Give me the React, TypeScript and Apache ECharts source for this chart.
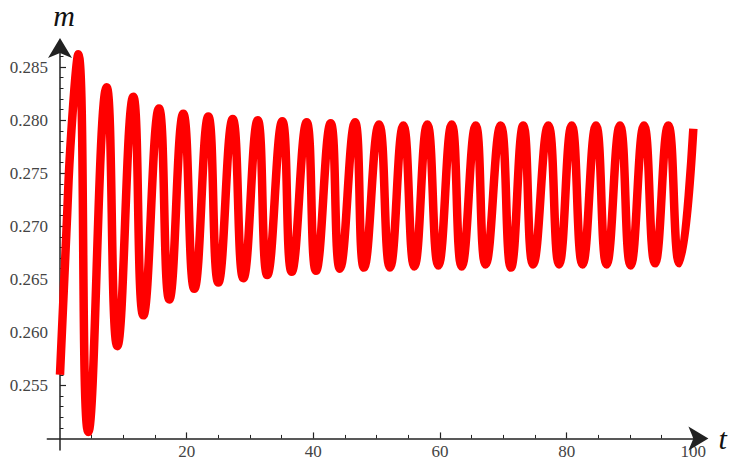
import React, { useEffect, useRef } from 'react';
import * as echarts from 'echarts';

// Curve: start, extrema (peaks / troughs) and end point
const tValues = [
  0, 1.0, 1.8, 2.89, 4.47, 7.37, 9.05, 11.57, 13.16, 15.63, 17.26, 19.47, 21.21,
  23.42, 25.0, 27.27, 28.95, 31.22, 32.73, 35.1, 36.58, 38.95, 40.42, 42.74, 44.2,
  46.58, 48.0, 50.37, 52.1, 54.21, 55.95, 58.0, 59.74, 61.85, 63.43, 65.64, 67.2,
  69.58, 71.2, 73.15, 74.7, 77.1, 78.8, 80.8, 82.5, 84.63, 86.3, 88.42, 90.1,
  92.21, 93.95, 96.05, 97.8, 100,
];
const mValues = [
  0.256, 0.2693, 0.279, 0.2862, 0.2506, 0.2831, 0.2587, 0.2822, 0.2616, 0.2811, 0.2631, 0.2806, 0.2641,
  0.28035, 0.2647, 0.2801, 0.2651, 0.28, 0.2654, 0.2799, 0.2657, 0.2798, 0.2658, 0.2797, 0.266,
  0.2798, 0.2661, 0.2796, 0.2661, 0.2795, 0.2662, 0.2796, 0.2663, 0.2796, 0.2662, 0.2795, 0.2664,
  0.2795, 0.2661, 0.2795, 0.2664, 0.2795, 0.2664, 0.2795, 0.2664, 0.2795, 0.2664, 0.2795, 0.2663,
  0.2795, 0.2665, 0.2795, 0.2665, 0.2792,
];

const xMajorTicks = [20, 40, 60, 80, 100];
const xMinorTicks = [5, 10, 15, 25, 30, 35, 45, 50, 55, 65, 70, 75, 85, 90, 95];
const yMajorTicks = [0.255, 0.26, 0.265, 0.27, 0.275, 0.28, 0.285];
const yMinorTicks = [
  0.251, 0.252, 0.253, 0.254, 0.256, 0.257, 0.258, 0.259, 0.261, 0.262, 0.263, 0.264,
  0.266, 0.267, 0.268, 0.269, 0.271, 0.272, 0.273, 0.274, 0.276, 0.277, 0.278, 0.279,
  0.281, 0.282, 0.283, 0.284, 0.286,
];

const X_MIN = -2;
const X_MAX = 100.8;
const Y_MIN = 0.2489;
const Y_MAX = 0.2868;
const X_ORIGIN = 0;
const Y_ORIGIN = 0.25;

export default function App() {
  const ref = useRef<HTMLDivElement>(null);

  useEffect(() => {
    const el = ref.current;
    if (!el) return;
    const chart = echarts.init(el, null, { renderer: 'svg' });

    const gridLeft = 47.33;
    const gridWidth = 651.07;
    const gridTop = 48;
    const gridHeight = 402.1;
    const xOffset = -((Y_ORIGIN - Y_MIN) / (Y_MAX - Y_MIN)) * gridHeight;
    const yOffset = -((X_ORIGIN - X_MIN) / (X_MAX - X_MIN)) * gridWidth;

    const axisColor = '#222';
    const labelStyle = {
      fontFamily: '"Liberation Serif", "DejaVu Serif", serif',
      fontSize: 17,
      color: '#444',
    };
    const nameStyle = {
      fontFamily: '"Liberation Serif", "DejaVu Serif", serif',
      fontStyle: 'italic',
      fontSize: 30,
      lineHeight: 26,
      color: '#111',
    };

    const data = tValues.map((t, i) => [t, mValues[i]]);

    const option: any = {
      animation: false,
      backgroundColor: '#fff',
      grid: {
        left: gridLeft,
        top: gridTop,
        width: gridWidth,
        height: gridHeight,
        containLabel: false,
        outerBoundsMode: 'none',
      },
      xAxis: [
        {
          type: 'value',
          position: 'bottom',
          min: X_MIN,
          max: X_MAX,
          offset: xOffset,
          name: 't',
          nameLocation: 'end',
          nameGap: 20,
          nameTextStyle: { ...nameStyle, verticalAlign: 'middle' },
          axisLine: {
            show: true,
            lineStyle: { color: axisColor, width: 1.5 },
            symbol: ['none', 'arrow'],
            symbolSize: [18, 20],
            symbolOffset: [0, 10],
          },
          axisTick: {
            show: true,
            inside: true,
            length: 6,
            lineStyle: { color: axisColor, width: 1.2 },
            customValues: xMajorTicks,
          },
          axisLabel: {
            show: true,
            margin: 5,
            customValues: xMajorTicks,
            ...labelStyle,
          },
          splitLine: { show: false },
        },
        {
          type: 'value',
          position: 'bottom',
          min: X_MIN,
          max: X_MAX,
          offset: xOffset,
          axisLine: { show: false },
          axisTick: {
            show: true,
            inside: true,
            length: 3.5,
            lineStyle: { color: axisColor, width: 1 },
            customValues: xMinorTicks,
          },
          axisLabel: { show: false },
          splitLine: { show: false },
        },
      ],
      yAxis: [
        {
          type: 'value',
          position: 'left',
          min: Y_MIN,
          max: Y_MAX,
          offset: yOffset,
          name: 'm',
          nameLocation: 'end',
          nameGap: 20,
          nameTextStyle: { ...nameStyle, padding: [0, 0, 0, 8] },
          axisLine: {
            show: true,
            lineStyle: { color: axisColor, width: 1.5 },
            symbol: ['none', 'arrow'],
            symbolSize: [18, 20],
            symbolOffset: [0, 10],
          },
          axisTick: {
            show: true,
            inside: true,
            length: 6,
            lineStyle: { color: axisColor, width: 1.2 },
            customValues: yMajorTicks,
          },
          axisLabel: {
            show: true,
            margin: 12,
            customValues: yMajorTicks,
            formatter: (v: number) => v.toFixed(3),
            ...labelStyle,
          },
          splitLine: { show: false },
        },
        {
          type: 'value',
          position: 'left',
          min: Y_MIN,
          max: Y_MAX,
          offset: yOffset,
          axisLine: { show: false },
          axisTick: {
            show: true,
            inside: true,
            length: 3.5,
            lineStyle: { color: axisColor, width: 1 },
            customValues: yMinorTicks,
          },
          axisLabel: { show: false },
          splitLine: { show: false },
        },
      ],
      series: [
        {
          type: 'line',
          xAxisIndex: 0,
          yAxisIndex: 0,
          data,
          smooth: 0.5,
          symbol: 'none',
          clip: false,
          lineStyle: { color: '#ff0000', width: 8.5, cap: 'butt', join: 'round' },
          z: 1,
        },
      ],
    };

    chart.setOption(option);
    return () => chart.dispose();
  }, []);

  return (
    <div
      ref={ref}
      style={{ position: 'fixed', left: 0, top: 0, width: 732, height: 461, background: '#fff' }}
    />
  );
}
